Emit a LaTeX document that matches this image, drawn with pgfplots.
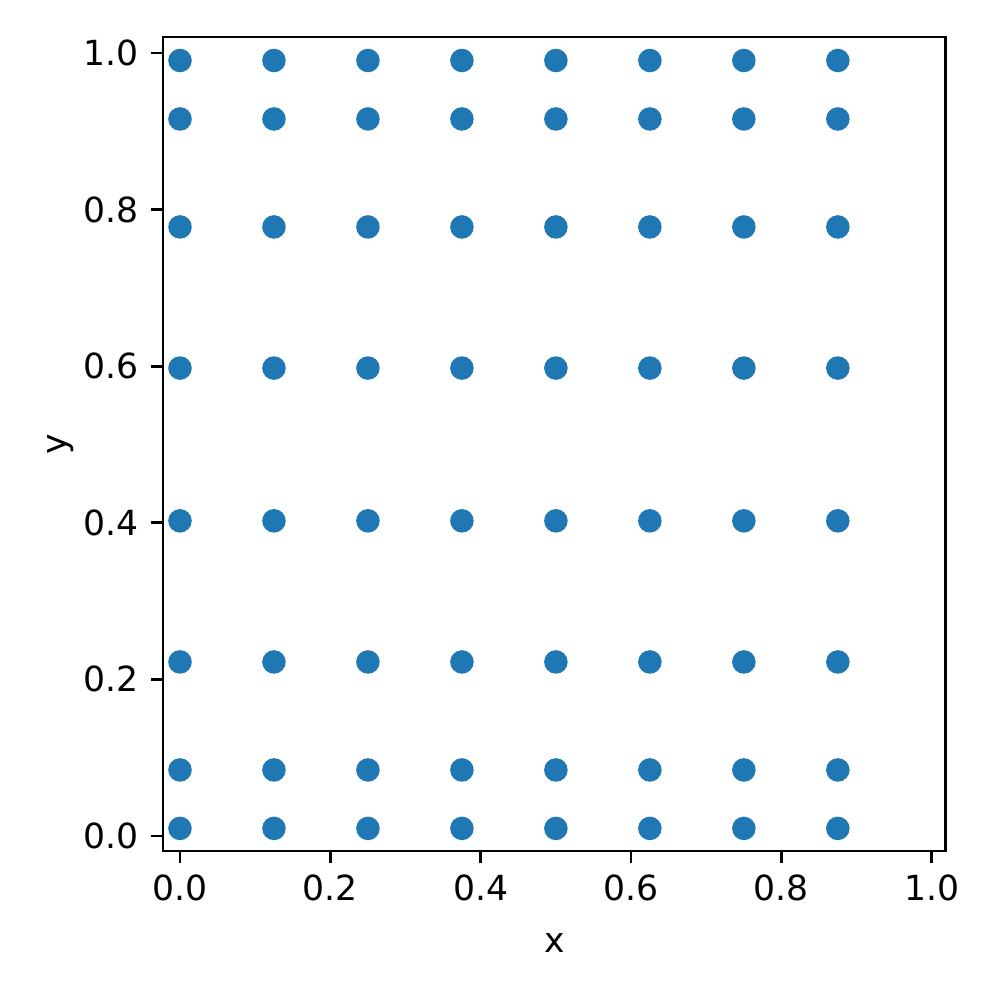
\documentclass[border=0pt]{standalone}
\usepackage{fontspec}
\setmainfont{DejaVu Sans}
\usepackage{pgfplots}
\pgfplotsset{compat=1.18}
\definecolor{mplblue}{HTML}{1F77B4}
\begin{document}
\fontsize{10}{12}\selectfont
\begin{tikzpicture}
\begin{axis}[
  name=ax,
  width=226.2pt, height=235.2pt, scale only axis,
  xmin=-0.0226, xmax=1.0186, ymin=-0.0192, ymax=1.0204,
  xtick={0,0.2,0.4,0.6,0.8,1.0}, ytick={0,0.2,0.4,0.6,0.8,1.0},
  /pgf/number format/.cd, fixed, fixed zerofill, precision=1, assume math mode=true,
  /pgfplots/.cd,
  tick align=outside, tick pos=left,
  major tick length=3.5pt,
  tick style={black, line width=0.8pt},
  axis line style={line width=0.8pt},
  xlabel={x}, ylabel={y},
  ticklabel style={font=\fontsize{10}{12}\selectfont},
  label style={font=\fontsize{10}{12}\selectfont},
  xlabel style={yshift=-2.5pt},
  ylabel style={yshift=-4pt},
]
\addplot[only marks, mark=*, mark size=3.2pt, mark options={fill=mplblue, draw=mplblue}, color=mplblue] table {
x y
0 0.00961
0.125 0.00961
0.25 0.00961
0.375 0.00961
0.5 0.00961
0.625 0.00961
0.75 0.00961
0.875 0.00961
0 0.08427
0.125 0.08427
0.25 0.08427
0.375 0.08427
0.5 0.08427
0.625 0.08427
0.75 0.08427
0.875 0.08427
0 0.22221
0.125 0.22221
0.25 0.22221
0.375 0.22221
0.5 0.22221
0.625 0.22221
0.75 0.22221
0.875 0.22221
0 0.40245
0.125 0.40245
0.25 0.40245
0.375 0.40245
0.5 0.40245
0.625 0.40245
0.75 0.40245
0.875 0.40245
0 0.59755
0.125 0.59755
0.25 0.59755
0.375 0.59755
0.5 0.59755
0.625 0.59755
0.75 0.59755
0.875 0.59755
0 0.77779
0.125 0.77779
0.25 0.77779
0.375 0.77779
0.5 0.77779
0.625 0.77779
0.75 0.77779
0.875 0.77779
0 0.91573
0.125 0.91573
0.25 0.91573
0.375 0.91573
0.5 0.91573
0.625 0.91573
0.75 0.91573
0.875 0.91573
0 0.99039
0.125 0.99039
0.25 0.99039
0.375 0.99039
0.5 0.99039
0.625 0.99039
0.75 0.99039
0.875 0.99039
};
\end{axis}
\path ([xshift=-47.1pt,yshift=-42.2pt]ax.south west) rectangle ([xshift=14.7pt,yshift=10.7pt]ax.north east);
\end{tikzpicture}
\end{document}
